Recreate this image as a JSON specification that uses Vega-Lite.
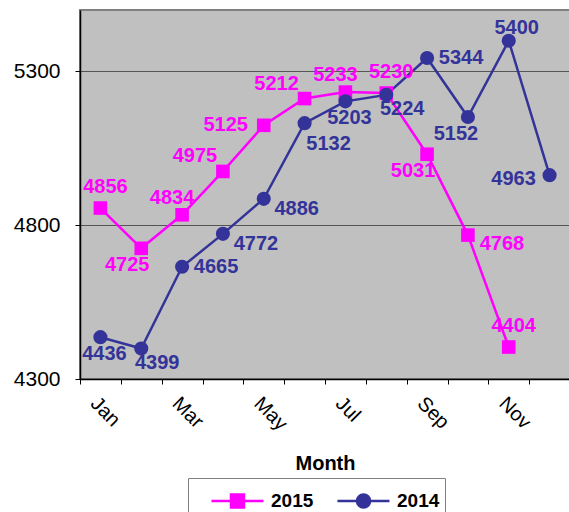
{
  "$schema": "https://vega.github.io/schema/vega-lite/v6.json",
  "width": 490,
  "height": 369,
  "autosize": {"type": "none"},
  "padding": {"left": 80, "top": 10, "right": 0, "bottom": 133},
  "background": "white",
  "config": {
    "view": {"fill": "#C0C0C0", "stroke": "#808080", "strokeWidth": 2},
    "font": "Liberation Sans",
    "axis": {"labelFont": "Liberation Sans", "titleFont": "Liberation Sans", "labelColor": "black", "titleColor": "black", "domainColor": "black", "tickColor": "black", "domainWidth": 1.5, "tickWidth": 1}
  },
  "data": {"values": [
    {"month": "Jan", "series": "2015", "value": 4856},
    {"month": "Feb", "series": "2015", "value": 4725},
    {"month": "Mar", "series": "2015", "value": 4834},
    {"month": "Apr", "series": "2015", "value": 4975},
    {"month": "May", "series": "2015", "value": 5125},
    {"month": "Jun", "series": "2015", "value": 5212},
    {"month": "Jul", "series": "2015", "value": 5233},
    {"month": "Aug", "series": "2015", "value": 5230},
    {"month": "Sep", "series": "2015", "value": 5031},
    {"month": "Oct", "series": "2015", "value": 4768},
    {"month": "Nov", "series": "2015", "value": 4404},
    {"month": "Jan", "series": "2014", "value": 4436},
    {"month": "Feb", "series": "2014", "value": 4399},
    {"month": "Mar", "series": "2014", "value": 4665},
    {"month": "Apr", "series": "2014", "value": 4772},
    {"month": "May", "series": "2014", "value": 4886},
    {"month": "Jun", "series": "2014", "value": 5132},
    {"month": "Jul", "series": "2014", "value": 5203},
    {"month": "Aug", "series": "2014", "value": 5224},
    {"month": "Sep", "series": "2014", "value": 5344},
    {"month": "Oct", "series": "2014", "value": 5152},
    {"month": "Nov", "series": "2014", "value": 5400},
    {"month": "Dec", "series": "2014", "value": 4963}
  ]},
  "encoding": {
    "x": {"field": "month", "type": "nominal",
      "sort": ["Jan","Feb","Mar","Apr","May","Jun","Jul","Aug","Sep","Oct","Nov","Dec"],
      "scale": {"type": "band", "domain": ["Jan","Feb","Mar","Apr","May","Jun","Jul","Aug","Sep","Oct","Nov","Dec"], "paddingInner": 0, "paddingOuter": 0},
      "axis": {"title": "Month", "titleFontSize": 20, "titleFontWeight": "bold", "titlePadding": 20,
        "labelAngle": 45, "labelAlign": "left", "labelBaseline": "top", "labelFontSize": 20, "labelPadding": 9,
        "tickBand": "extent", "tickSize": 5, "grid": false,
        "labelExpr": "indexof(['Jan','Mar','May','Jul','Sep','Nov'], datum.value) >= 0 ? datum.value : ''"}},
    "y": {"field": "value", "type": "quantitative",
      "scale": {"domain": [4300, 5500], "nice": false, "zero": false},
      "axis": {"title": null, "values": [4300, 4800, 5300], "format": "d", "grid": true, "gridColor": "#555555", "gridWidth": 1,
        "labelFontSize": 21, "labelPadding": 15, "tickSize": 5}}
  },
  "layer": [
    {"mark": {"type": "point", "filled": true, "opacity": 0},
     "encoding": {
       "fill": {"field": "series", "type": "nominal", "scale": {"domain": ["2015","2014"], "range": ["#FF00FF","#333399"]}, "title": null},
       "stroke": {"field": "series", "type": "nominal", "scale": {"domain": ["2015","2014"], "range": ["#FF00FF","#333399"]}, "title": null},
       "shape": {"field": "series", "type": "nominal", "scale": {"domain": ["2015","2014"], "range": ["M0.06,0H3.31M1.28,-0.41H2.09V0.41H1.28Z", "M0.06,0H3.31M2.1,0A0.41,0.41 0 1,1 1.28,0A0.41,0.41 0 1,1 2.1,0Z"]},
         "legend": {"title": null, "orient": "none", "legendX": 108, "legendY": 468, "direction": "horizontal",
           "symbolSize": 1024, "symbolStrokeWidth": 2.5, "symbolOpacity": 1, "padding": 5, "labelOffset": 43, "columnPadding": 5,
           "labelFontSize": 19, "labelFontWeight": "bold", "labelFont": "Liberation Sans", "labelColor": "black",
           "strokeColor": "#808080", "fillColor": "white"}}
     }},
    {"mark": {"type": "line", "strokeWidth": 2.5},
     "encoding": {"color": {"field": "series", "type": "nominal", "scale": {"domain": ["2015","2014"], "range": ["#FF00FF","#333399"]}, "legend": null}}},
    {"transform": [{"filter": "datum.series == '2015'"}],
     "mark": {"type": "point", "shape": "square", "filled": true, "size": 185, "opacity": 1, "color": "#FF00FF"}},
    {"transform": [{"filter": "datum.series == '2014'"}],
     "mark": {"type": "point", "shape": "circle", "filled": true, "size": 200, "opacity": 1, "color": "#333399"}},
    {"transform": [{"filter": "datum.series == '2015' && indexof(['Jan','Aug','Nov'], datum.month) >= 0"}],
     "mark": {"type": "text", "dx": 5, "dy": -21, "fontSize": 20, "fontWeight": "bold", "color": "#FF00FF"},
     "encoding": {"text": {"field": "value"}}},
    {"transform": [{"filter": "datum.series == '2015' && indexof(['Mar','Jul'], datum.month) >= 0"}],
     "mark": {"type": "text", "dx": -10, "dy": -17, "fontSize": 20, "fontWeight": "bold", "color": "#FF00FF"},
     "encoding": {"text": {"field": "value"}}},
    {"transform": [{"filter": "datum.series == '2015' && indexof(['Apr','Jun'], datum.month) >= 0"}],
     "mark": {"type": "text", "dx": -28, "dy": -15, "fontSize": 20, "fontWeight": "bold", "color": "#FF00FF"},
     "encoding": {"text": {"field": "value"}}},
    {"transform": [{"filter": "datum.series == '2015' && indexof(['Feb','Sep'], datum.month) >= 0"}],
     "mark": {"type": "text", "dx": -14, "dy": 17, "fontSize": 20, "fontWeight": "bold", "color": "#FF00FF"},
     "encoding": {"text": {"field": "value"}}},
    {"transform": [{"filter": "datum.series == '2015' && datum.month == 'May'"}],
     "mark": {"type": "text", "dx": -38, "dy": 0, "fontSize": 20, "fontWeight": "bold", "color": "#FF00FF"},
     "encoding": {"text": {"field": "value"}}},
    {"transform": [{"filter": "datum.series == '2015' && datum.month == 'Oct'"}],
     "mark": {"type": "text", "dx": 34, "dy": 9, "fontSize": 20, "fontWeight": "bold", "color": "#FF00FF"},
     "encoding": {"text": {"field": "value"}}},
    {"transform": [{"filter": "datum.series == '2014' && indexof(['Jan','Jul'], datum.month) >= 0"}],
     "mark": {"type": "text", "dx": 4, "dy": 17, "fontSize": 20, "fontWeight": "bold", "color": "#333399"},
     "encoding": {"text": {"field": "value"}}},
    {"transform": [{"filter": "datum.series == '2014' && indexof(['Feb','Aug'], datum.month) >= 0"}],
     "mark": {"type": "text", "dx": 16, "dy": 14, "fontSize": 20, "fontWeight": "bold", "color": "#333399"},
     "encoding": {"text": {"field": "value"}}},
    {"transform": [{"filter": "datum.series == '2014' && indexof(['Mar','Sep'], datum.month) >= 0"}],
     "mark": {"type": "text", "dx": 34, "dy": 0, "fontSize": 20, "fontWeight": "bold", "color": "#333399"},
     "encoding": {"text": {"field": "value"}}},
    {"transform": [{"filter": "datum.series == '2014' && indexof(['Apr','May'], datum.month) >= 0"}],
     "mark": {"type": "text", "dx": 33, "dy": 10, "fontSize": 20, "fontWeight": "bold", "color": "#333399"},
     "encoding": {"text": {"field": "value"}}},
    {"transform": [{"filter": "datum.series == '2014' && datum.month == 'Jun'"}],
     "mark": {"type": "text", "dx": 24, "dy": 21, "fontSize": 20, "fontWeight": "bold", "color": "#333399"},
     "encoding": {"text": {"field": "value"}}},
    {"transform": [{"filter": "datum.series == '2014' && datum.month == 'Oct'"}],
     "mark": {"type": "text", "dx": -12, "dy": 17, "fontSize": 20, "fontWeight": "bold", "color": "#333399"},
     "encoding": {"text": {"field": "value"}}},
    {"transform": [{"filter": "datum.series == '2014' && datum.month == 'Nov'"}],
     "mark": {"type": "text", "dx": 8, "dy": -13, "fontSize": 20, "fontWeight": "bold", "color": "#333399"},
     "encoding": {"text": {"field": "value"}}},
    {"transform": [{"filter": "datum.series == '2014' && datum.month == 'Dec'"}],
     "mark": {"type": "text", "dx": -36, "dy": 4, "fontSize": 20, "fontWeight": "bold", "color": "#333399"},
     "encoding": {"text": {"field": "value"}}}
  ]
}
